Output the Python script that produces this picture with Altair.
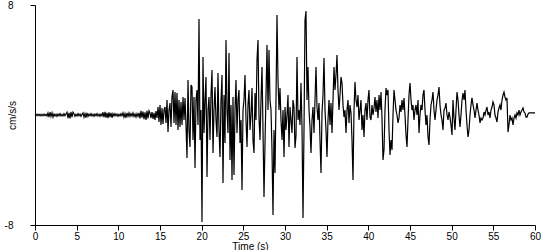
import altair as alt
import pandas as pd

DT = 0.12  # reading step along the trace (s)

# Acceleration (cm/s/s), segment by segment
seg_start = [0.0, 13.8, 22.68, 31.32, 40.2, 49.92]

seg0 = [0, .05, -.05, .07, -.05, .05, -.07, .05, -.05, .07, -.05, .05, -.07,
        .15, -.15, .2, -.1, .15, -.15,
        .07, -.07, .05, -.1, .07, -.05, .1, -.07, .05, -.07, .1, -.05, .07,
        .2, -.22, .15, -.25, .22, -.15, .2,
        .07, -.1, .05, -.07, .1, -.05, .07, -.1, .05,
        .15, -.15, .1, -.2, .15, -.1,
        .07, -.05, .1, -.07, .05, -.1, .07, -.05, .1, -.07, .05, -.1, .07, -.07,
        .2, -.15, .22, -.2, .15, -.22, .2, -.15, .15, -.2, .1,
        -.07, .1, -.05, .07, -.1, .05, -.07, .1, -.05,
        .15, -.15, .1, -.2, .15, -.1, .15, -.1,
        .1, -.07, .15, -.1, .07, -.15, .1, -.1, .15,
        -.25, .3, -.2, .25, -.3, .2, -.35, .3, -.25, .3]

seg1 = [0.15, -0.22, 0.22, -0.29, 0.15, -0.36, 0.29, -0.22, 0.58, -0.51,
        0.73, -0.73, 0.51, -0.65, 0.36, 0.58, -0.58, 1.09, -1.24, 0.36,
        0.87, -0.87, 1.31, 1.82, -0.58, 1.67, -0.73, 1.60, -1.09, 1.09,
        -0.87, 0.95, -0.73, 1.31, -0.36, 1.24, -0.73, -3.13, 2.55, -1.09,
        -2.33, 2.18, 2.04, -1.82, 1.31, -3.85, 1.09, 1.82, -0.73, 6.98,
        -1.82, 0.36, -7.78, 4.22, -1.31, 1.09, 2.76, -4.51, 0.36, 1.31,
        -1.82, 1.45, 3.27, -2.76, 0.36, 2.04, -0.36, -1.60, 3.05, -1.09,
        -3.05, 1.09, 2.91, -4.95]

seg2 = [1.45, -2.04, 5.45, 0.36, -1.31, 4.51, -3.27, 0.73, -4.73, 1.31,
        -4.36, 0.36, 2.55, -1.31, 1.09, 1.82, -2.04, -0.36, -5.45, 0.36,
        1.09, 2.91, -0.36, -2.33, 0.73, 1.82, -1.09, 0, 1.96, -1.82,
        -2.76, 1.60, -0.36, 4.00, 5.45, -0.15, -1.82, 1.09, 3.49, -1.09,
        -5.96, -2.04, 1.45, 5.09, 0.36, 4.73, 1.09, 0.36, -2.55, -7.27,
        -1.09, -4.22, 1.09, 7.27, 2.55, 0.36, 1.96, -0.36, -1.82, 0.36,
        -3.05, 0.58, -1.09, 0, 1.45, -2.33, 0.58, -0.36, -1.31, 1.09,
        0.58, -2.40]

seg3 = [-1.5, 4.22, -0.36, 0.36, -0.73, 2.33, -0.87, -7.49, -1.09, 6.91,
        7.56, 1.09, 3.49, 0.36, -0.87, -2.76, -0.36, 0.58, -1.31, 1.09,
        3.49, 0.58, -0.36, 0.87, -1.82, -4.22, 0.15, 1.45, 4.15, 0.36,
        -1.09, -3.05, -0.36, 1.09, -0.73, 0.87, -1.31, 1.09, 3.49, 1.82,
        2.91, 4.36, 1.82, 0.36, 1.45, 2.76, 2.33, 0.73, -0.15, 0.36,
        -1.31, 0.36, 1.09, -0.58, 0.73, 0.15, -1.82, -4.73, 0.36, 2.40,
        1.09, 0.58, 1.45, -0.36, 0.36, 1.09, -1.09, 0, -1.60, 0.36,
        0.87, -0.36, 1.09, 1.82]

seg4 = [-0.15, -0.36, 0.73, 0, 0.5, 1.31, 0.22, 1.09, -0.22, 1.45,
        0.36, 1.67, -0.22, -3.27, -2.55, 0.36, 1.96, 1.45, 1.82, -1.09,
        -2.91, -1.82, -2.55, 0, 1.82, 1.09, 0.36, 0, -0.58, -0.22,
        0.73, 0.22, 1.09, 0.36, 1.24, 0, -1.45, -2.33, -0.36, 1.45,
        2.33, 1.09, 0.36, 0.73, -0.36, 0.36, 0.73, 0, 1.09, -1.31,
        0, 0.73, 0.36, 1.45, 1.82, 0.36, -0.73, 0, -1.60, -2.18,
        -0.36, 0.73, 1.09, 1.67, 0.36, -0.36, 0.36, 1.09, 1.45, 2.04,
        0.73, 0, -0.36, -1.09, 0.36, 0.51, 0.87, 0, -0.36, 0.22, -0.15]

seg5 = [-0.73, -1.45, 1.09, -0.22, -1.09, 0.36, 1.67, 1.09, 0, -0.87,
        0, 1.09, 1.60, 1.09, 1.82, 0.36, -0.73, -1.60, -1.09, 0,
        0.73, 1.24, 0.73, 0.36, -0.22, 0.36, 0.87, 0.36, 0, -0.58,
        -0.22, -0.36, -0.22, 0.22, 0, 0.36, 0.58, 0, 0.22, -0.22,
        0.36, 0.58, 0.95, 0.73, 0, -0.22, -0.51, 0.22, 0.51, 0.73,
        0.36, 1.09, 1.45, 1.67, 1.31, 1.09, 1.24, -1.24, -0.73, 0,
        -0.36, -0.22, -0.73, -0.22, 0, -0.22, 0.15, 0, 0.36, 0,
        0.22, 0.36, 0.51, 0.22, 0.15, -0.15, -0.15, 0.07, 0.15, 0.15,
        0.15, 0.15, 0.15, 0.15, 0.15]

segments = [seg0, seg1, seg2, seg3, seg4, seg5]
times, accel = [], []
for start, seg in zip(seg_start, segments):
    for i, v in enumerate(seg):
        t = round(start + i * DT, 3)
        if t <= 60:
            times.append(t)
            accel.append(v)

df = pd.DataFrame({"t": times, "a": accel})

FONT = "Liberation Sans"

chart = alt.Chart(df).mark_line(color="black", strokeWidth=1.2, strokeJoin="miter").encode(
    x=alt.X("t:Q", scale=alt.Scale(domain=[0, 60], nice=False, zero=False),
            axis=alt.Axis(title="Time (s)", values=list(range(0, 61, 5)), grid=False,
                          tickSize=5, labelPadding=1, labelFontSize=10, titleFontSize=10,
                          titleFontWeight="normal", labelFont=FONT, titleFont=FONT,
                          labelColor="black", titleColor="black", domainColor="black",
                          tickColor="black", titleX=215, titleY=24,
                          titleBaseline="alphabetic", labelFlush=False)),
    y=alt.Y("a:Q", scale=alt.Scale(domain=[-8, 8], nice=False),
            axis=alt.Axis(title="cm/s/s", values=[-8, 8], grid=False, tickSize=5,
                          labelExpr="'' + datum.value",
                          labelPadding=17, labelFontSize=10, titleFontSize=10,
                          titleFontWeight="normal", labelFont=FONT, titleFont=FONT,
                          labelColor="black", titleColor="black", domainColor="black",
                          tickColor="black", titleX=-23, titleY=110, titleAngle=270,
                          titleAlign="center", titleBaseline="middle", labelFlush=False)),
).properties(
    width=500, height=220,
    padding={"left": 35, "top": 5, "right": 15, "bottom": 25},
    autosize="none",
).configure_view(stroke=None)

chart.save("out.html", embed_options={"renderer": "svg", "actions": False})
